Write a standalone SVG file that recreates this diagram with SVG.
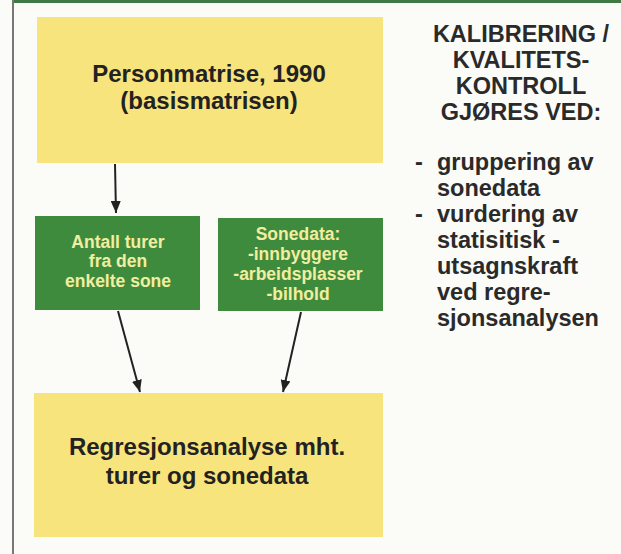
<svg xmlns="http://www.w3.org/2000/svg" width="621" height="554" viewBox="0 0 621 554">
<defs>
<marker id="ah" viewBox="0 0 12 10" refX="12" refY="5" markerWidth="12" markerHeight="10" markerUnits="userSpaceOnUse" orient="auto">
<path d="M0,0 L12,5 L0,10 z" fill="#222"/>
</marker>
<style>
.y{fill:#f8e47c}
.g{fill:#3f8b3e}
.t{font-family:"Liberation Sans",Arial,sans-serif;font-weight:bold;fill:#222;text-anchor:middle;font-size:24px}
.gt{font-family:"Liberation Sans",Arial,sans-serif;font-weight:bold;fill:#f2eea0;font-size:17.5px;text-anchor:middle}
.r{font-family:"Liberation Sans",Arial,sans-serif;font-weight:bold;fill:#2a2a2a;font-size:23.5px}
.c{stroke:#222;stroke-width:2;fill:none;marker-end:url(#ah)}
</style>
</defs>
<rect width="621" height="554" fill="#fbfbf8"/>
<rect x="12" y="0" width="609" height="3" fill="#3f7a45"/>
<line x1="13" y1="0" x2="13" y2="554" stroke="#777" stroke-width="2"/>
<g id="personmatrise">
<rect class="y" x="37" y="17" width="346" height="146"/>
<text class="t" x="209" y="82">Personmatrise, 1990</text>
<text class="t" x="209" y="109">(basismatrisen)</text>
</g>
<g id="antall">
<rect class="g" x="35" y="216" width="165" height="94"/>
<text class="gt" x="118" y="248">Antall turer</text>
<text class="gt" x="118" y="267">fra den</text>
<text class="gt" x="118" y="287">enkelte sone</text>
</g>
<g id="sonedata">
<rect class="g" x="218" y="218" width="165" height="93"/>
<text class="gt" x="298" y="240">Sonedata:</text>
<text class="gt" x="298" y="260">-innbyggere</text>
<text class="gt" x="298" y="280">-arbeidsplasser</text>
<text class="gt" x="298" y="300">-bilhold</text>
</g>
<g id="regresjon">
<rect class="y" x="34" y="393" width="349" height="144"/>
<text class="t" x="207" y="455">Regresjonsanalyse mht.</text>
<text class="t" x="207" y="484">turer og sonedata</text>
</g>
<g id="kalibrering">
<text class="r" text-anchor="middle" x="521" y="42">KALIBRERING /</text>
<text class="r" text-anchor="middle" x="521" y="68">KVALITETS-</text>
<text class="r" text-anchor="middle" x="521" y="94">KONTROLL</text>
<text class="r" text-anchor="middle" x="521" y="120">GJØRES VED:</text>
<text class="r" x="415" y="170">-</text>
<text class="r" x="437" y="170">gruppering av</text>
<text class="r" x="437" y="196">sonedata</text>
<text class="r" x="415" y="222">-</text>
<text class="r" x="437" y="222">vurdering av</text>
<text class="r" x="437" y="248">statisitisk -</text>
<text class="r" x="437" y="274">utsagnskraft</text>
<text class="r" x="437" y="300">ved regre-</text>
<text class="r" x="437" y="326">sjonsanalysen</text>
</g>
<g id="connectors">
<line class="c" x1="115" y1="164" x2="116" y2="213"/>
<line class="c" x1="118" y1="311" x2="140" y2="392"/>
<line class="c" x1="301" y1="312" x2="283" y2="392"/>
</g>
</svg>
